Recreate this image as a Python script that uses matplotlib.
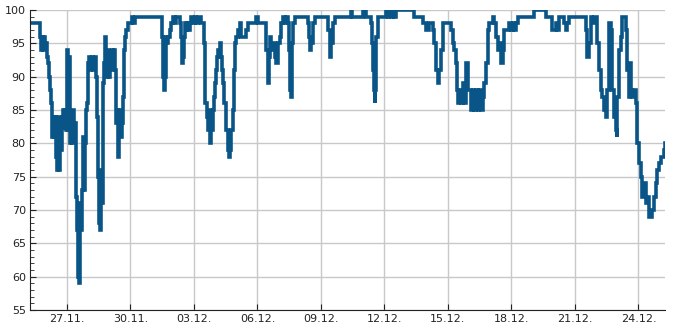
import numpy as np
import pandas as pd
import matplotlib
matplotlib.use("Agg")
import matplotlib.pyplot as plt
import matplotlib.dates as mdates
from matplotlib.ticker import MultipleLocator

# hours since 25.11. 00:00 and readings
start = pd.Timestamp("2023-11-25 00:00")
hours = [6.1, 16.7, 17.4, 18.6, 20.1, 21.2, 22.3, 23.5, 25.0, 26.1, 27.6, 28.75, 29.9, 30.6, 31.4,
         32.5, 33.6, 34.8, 35.9, 36.7, 37.8, 38.9, 40.1, 41.2, 42.0, 43.1, 43.8, 45.0, 46.1, 47.2,
         48.4, 49.5, 50.3, 51.4, 52.5, 53.7, 54.8, 55.9, 57.0, 57.8, 59.0, 60.1, 60.8, 61.9, 63.1,
         64.2, 65.3, 66.5, 67.6, 68.7, 69.5, 70.6, 71.8, 72.9, 74.0, 75.2, 76.3, 77.4, 78.6, 79.7,
         80.8, 81.6, 82.7, 83.9, 85.0, 86.1, 87.3, 88.4, 89.5, 90.7, 91.4, 92.5, 93.6, 94.8, 95.9,
         97.0, 98.2, 99.3, 100.4, 101.6, 102.7, 103.8, 105.0, 106.1, 107.2, 108.3, 109.5, 110.6, 111.7,
         112.9, 114.0, 115.1, 117.4, 121.2, 123.1, 125.0, 155.2, 156.3, 157.0, 158.2, 159.3, 160.4,
         161.6, 162.7, 164.6, 166.5, 168.4, 170.3, 172.2, 175.9, 177.8, 178.5, 179.7, 180.8, 181.9,
         183.0, 184.2, 185.3, 187.2, 189.1, 191.0, 192.9, 194.8, 196.6, 200.5, 203.1, 204.2, 206.5,
         207.6, 208.7, 209.9, 211.0, 212.1, 213.3, 214.4, 215.5, 216.7, 217.8, 218.9, 220.1, 221.2,
         222.3, 223.5, 224.6, 225.7, 228.0, 230.3, 231.4, 232.5, 234.4, 236.3, 237.0, 238.2, 240.1,
         241.9, 243.8, 245.8, 249.5, 251.4, 253.2, 258.9, 262.7, 264.5, 273.3, 274.0, 275.9, 277.0,
         277.8, 279.7, 281.5, 283.5, 285.4, 287.2, 289.1, 291.0, 292.9, 294.8, 296.7, 298.5, 299.6,
         301.2, 302.3, 303.5, 304.2, 306.1, 319.3, 321.1, 322.3, 323.9, 325.0, 326.8, 328.7, 342.0,
         343.8, 345.7, 347.6, 349.4, 351.4, 368.3, 370.2, 371.4, 381.6, 383.4, 385.3, 387.2, 391.0,
         392.9, 394.0, 394.7, 395.9, 397.0, 397.8, 398.6, 400.4, 408.0, 409.9, 411.7, 413.6, 415.5,
         417.4, 419.3, 421.2, 440.0, 441.9, 447.6, 451.3, 455.2, 457.0, 458.9, 460.8, 462.7, 464.6,
         466.5, 468.3, 470.2, 472.2, 474.0, 481.5, 483.5, 485.3, 487.2, 489.1, 490.2, 490.9, 492.9,
         494.8, 496.6, 498.5, 500.4, 502.3, 504.2, 506.1, 507.9, 509.9, 511.8, 513.6, 515.5, 517.4,
         519.2, 521.2, 523.1, 524.9, 526.8, 530.6, 532.5, 534.4, 536.2, 538.2, 540.1, 541.9, 543.8,
         547.5, 549.5, 551.4, 553.2, 555.1, 557.0, 558.9, 575.8, 577.0, 589.9, 591.0, 596.7, 598.5,
         600.4, 602.3, 604.1, 606.1, 609.8, 611.7, 613.7, 615.5, 617.4, 634.4, 636.3, 638.1, 640.0,
         642.0, 643.8, 645.7, 647.6, 649.4, 651.4, 653.3, 655.1, 657.0, 659.0, 660.8, 662.7, 664.6,
         666.4, 668.3, 670.3, 671.4, 672.1, 674.0, 675.9, 677.7, 679.7, 681.6, 683.4, 685.3, 686.4,
         687.2, 689.1, 691.0, 692.9, 694.0, 694.7, 696.6, 698.5, 700.4, 702.3, 704.2, 706.0, 707.9,
         709.9, 711.7, 713.6, 715.5, 717.4, 719.3, 721.2, 723.0, 725.0, 726.1]
values = [98, 98, 96, 94, 96, 94, 96, 95, 93, 92, 90, 88, 86, 84, 81,
          84, 81, 84, 78, 76, 84, 76, 81, 79, 84, 82, 85, 83, 85, 82,
          94, 82, 93, 80, 84, 80, 85, 82, 83, 72, 67, 65, 60, 59, 71,
          67, 73, 81, 73, 80, 85, 86, 92, 93, 91, 92, 93, 91, 92, 93,
          90, 84, 75, 68, 67, 76, 71, 89, 92, 95, 96, 93, 90, 94, 90,
          93, 91, 94, 92, 94, 91, 83, 85, 78, 82, 85, 81, 83, 87,
          94, 96, 97, 98, 99, 98, 99, 99, 96, 90, 88, 90, 96,
          95, 96, 97, 98, 99, 98, 99, 98, 96, 92, 93, 96, 98,
          97, 98, 97, 98, 99, 98, 99, 98, 99, 98, 95, 86, 84,
          82, 85, 80, 84, 82, 85, 87, 89, 91, 93, 94, 93, 95,
          93, 91, 89, 86, 82, 79, 78, 79, 82, 85, 91, 95, 96,
          97, 98, 96, 96, 97, 98, 98, 99, 98, 98, 94, 89, 93,
          96, 94, 95, 93, 92, 95, 96, 98, 99, 98, 99, 98, 94,
          88, 87, 95, 98, 99, 99, 98, 96, 94, 95, 98, 99, 99,
          97, 93, 95, 98, 99, 99, 100, 99, 99, 100, 100, 99, 99,
          98, 95, 91, 88, 86, 88, 96, 99, 99, 100, 99, 100, 99,
          100, 99, 100, 100, 99, 99, 98, 97, 97, 98, 98, 97, 95,
          91, 89, 91, 94, 98, 98, 97, 95, 94, 92, 88, 86, 88,
          86, 89, 86, 92, 88, 88, 85, 88, 85, 88, 85, 88, 85,
          87, 89, 92, 97, 98, 99, 98, 96, 94, 95, 92, 94, 97,
          97, 98, 97, 98, 97, 98, 99, 99, 100, 100, 99, 99, 97,
          97, 98, 97, 99, 99, 98, 97, 98, 99, 99, 97, 93, 95,
          99, 98, 99, 99, 95, 91, 88, 87, 85, 84, 88, 98, 97,
          88, 84, 82, 81, 87, 94, 96, 99, 99, 97, 91, 87, 92,
          88, 87, 88, 86, 81, 80, 77, 75, 72, 74, 71, 72, 69,
          69, 70, 72, 74, 76, 77, 78, 78, 79, 80]

times = start + pd.to_timedelta(hours, unit="h")
tick_days = pd.date_range("2023-11-27", periods=10, freq="3D")

fig = plt.figure(figsize=(6.85, 3.3), dpi=100)
ax = fig.add_axes([30 / 685, 20 / 330, 635 / 685, 300 / 330])

ax.plot(times, values, color="#0a5588", lw=2.6, drawstyle="steps-post", solid_joinstyle="miter")

ax.set_xlim(times[0], times[-1])
ax.set_ylim(55, 100)
ax.set_xticks(tick_days)
ax.xaxis.set_major_formatter(mdates.DateFormatter("%d.%m."))
ax.yaxis.set_major_locator(MultipleLocator(5))
ax.yaxis.set_minor_locator(MultipleLocator(1))

ax.grid(True, color="#c8c8c8", lw=1)
ax.set_axisbelow(True)
for s in ["top", "right"]:
    ax.spines[s].set_visible(False)
ax.spines["left"].set_color("#222222")
ax.spines["bottom"].set_color("#222222")
ax.tick_params(axis="both", which="major", direction="in", length=4, labelsize=8, colors="#222222", pad=3)
ax.tick_params(axis="y", which="minor", direction="in", length=3, color="#222222")

fig.savefig("out.png", dpi=100)
